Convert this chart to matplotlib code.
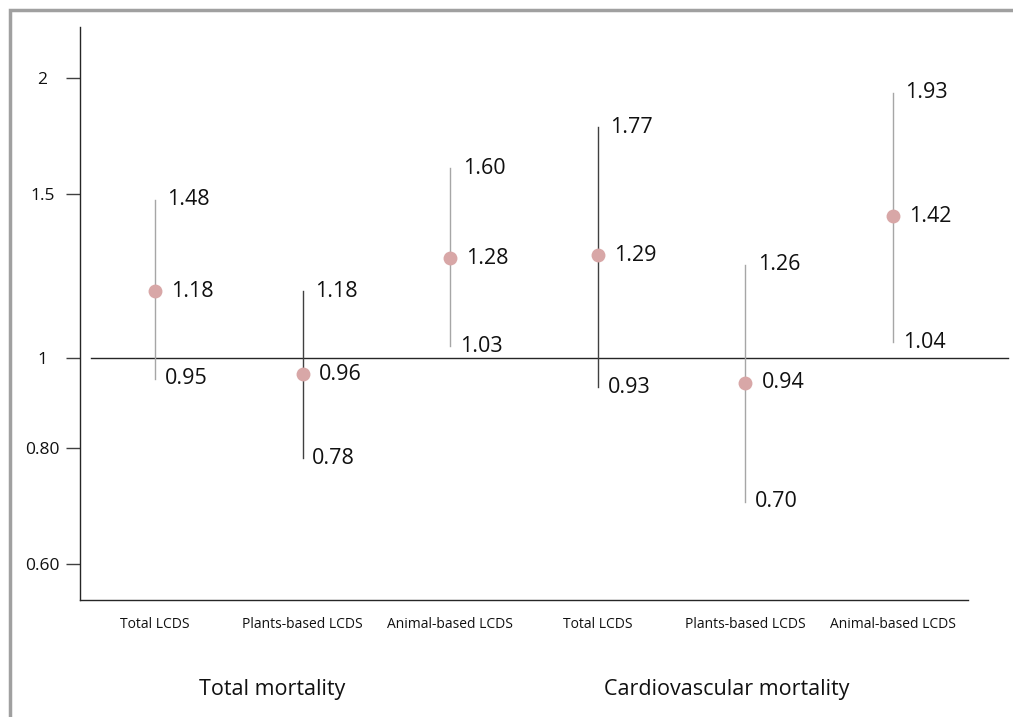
import matplotlib
matplotlib.use("Agg")
import matplotlib.pyplot as plt
from matplotlib.patches import Rectangle
from matplotlib.ticker import FixedLocator, NullLocator

plt.rcParams["font.family"] = ["Open Sans", "DejaVu Sans"]

categories = ["Total LCDS", "Plants-based LCDS", "Animal-based LCDS",
              "Total LCDS", "Plants-based LCDS", "Animal-based LCDS"]
groups = ["Total mortality", "Cardiovascular mortality"]
hazard_ratio = [1.18, 0.96, 1.28, 1.29, 0.94, 1.42]
ci_lower = [0.95, 0.78, 1.03, 0.93, 0.70, 1.04]
ci_upper = [1.48, 1.18, 1.60, 1.77, 1.26, 1.93]
whisker_tone = ["light", "dark", "light", "dark", "light", "light"]
y_ticks = [0.6, 0.8, 1, 1.5, 2]
y_tick_labels = ["0.60", "0.80", "1", "1.5", "2"]

TONES = {"light": "#a6a6a6", "dark": "#404040"}
DOT = "#d8a7a7"
TEXT = "#111111"

fig = plt.figure(figsize=(10.13, 7.17), dpi=100)
ax = fig.add_axes([0.079, 0.1632, 0.8766, 0.7991])

xs = list(range(len(categories)))
for x, lo, hi, tone in zip(xs, ci_lower, ci_upper, whisker_tone):
    ax.plot([x, x], [lo, hi], color=TONES[tone], lw=1.0, zorder=2)
ax.plot(xs, hazard_ratio, "o", ms=10, color=DOT, mec="none", zorder=3)

for x, hr, lo, hi in zip(xs, hazard_ratio, ci_lower, ci_upper):
    for val, dx in ((hi, 9), (hr, 11.5), (lo, 7)):
        ax.annotate(f"{val:.2f}", (x, val), xytext=(dx, 0),
                    textcoords="offset points", ha="left", va="center",
                    fontsize=15.5, color=TEXT)

ax.axhline(1, xmin=0.012, xmax=1.045, color="#262626", lw=1.0,
           clip_on=False, zorder=1)

ax.set_yscale("log")
ax.set_ylim(0.549, 2.27)
ax.set_xlim(-0.508, 5.508)
ax.yaxis.set_major_locator(FixedLocator(y_ticks))
ax.yaxis.set_minor_locator(NullLocator())
ax.set_yticklabels(y_tick_labels)
ax.tick_params(axis="y", length=10, width=1.0, color="#404040",
               pad=17, labelsize=12.5, labelcolor=TEXT)
for lab in ax.get_yticklabels():
    lab.set_horizontalalignment("center")

ax.set_xticks(xs)
ax.set_xticklabels(categories)
ax.tick_params(axis="x", length=0, pad=12, labelsize=10, labelcolor=TEXT)

for side in ("top", "right"):
    ax.spines[side].set_visible(False)
for side in ("left", "bottom"):
    ax.spines[side].set_color("#262626")
    ax.spines[side].set_linewidth(1.0)

fig.text(272 / 1013, 1 - 689 / 717, groups[0], ha="center", va="center",
         fontsize=15.5, color=TEXT)
fig.text(727 / 1013, 1 - 689 / 717, groups[1], ha="center", va="center",
         fontsize=15.5, color=TEXT)

# grey frame, only the top and left edges fall inside the picture
fig.patches.append(Rectangle((10 / 1013, -0.05), 1.2, 1.05 - 10 / 717,
                             transform=fig.transFigure, fill=False,
                             ec="#a0a0a0", lw=2.5))

fig.savefig("out.png", dpi=100)
